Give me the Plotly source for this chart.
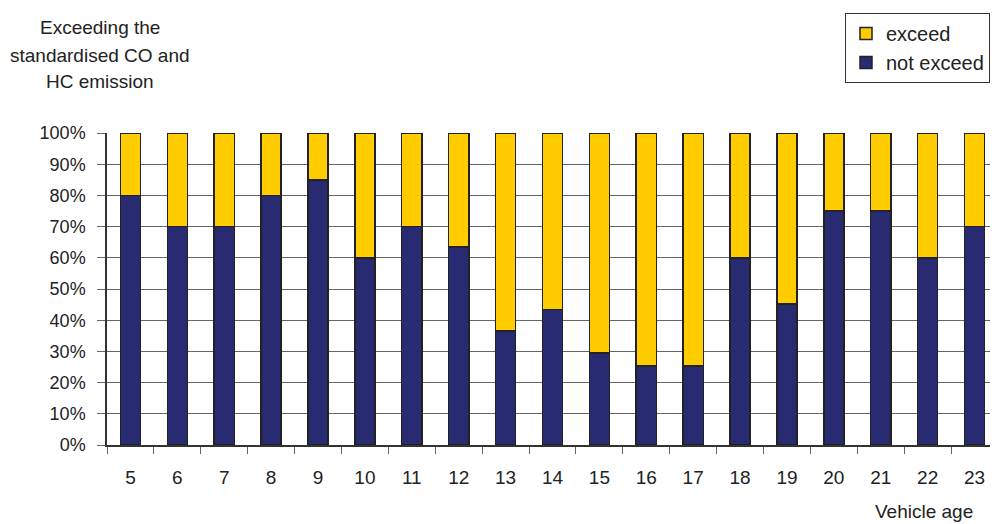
import plotly.graph_objects as go

ages = [str(a) for a in range(5, 24)]
not_exceed = [80, 70, 70, 80, 85, 60, 70, 63.5, 36.5, 43.5, 29.5, 25.3, 25.3, 60, 45.2, 75, 75, 60, 70]
exceed = [100 - v for v in not_exceed]
y_ticks = list(range(0, 101, 10))
y_ticktext = [f"{v}%" for v in y_ticks]

NAVY = "#282A72"
YELLOW = "#FFCC00"
FONT = "Liberation Sans, Arial, sans-serif"

# page body has an 8px margin: figure is drawn at (8, 8)
OFF = 8
W, H = 998 - OFF, 524 - OFF
L, T, B, R = 107 - OFF, 133 - OFF, 524 - 445, 0
PW, PH = W - L - R, H - T - B


def px_to_paper(px, py):
    # px, py are page pixel coordinates
    return (px - OFF - L) / PW, (H - B - (py - OFF)) / PH


fig = go.Figure()
fig.add_trace(go.Bar(x=ages, y=not_exceed, name="not exceed",
                     marker=dict(color=NAVY, line=dict(color="#222222", width=1.5))))
fig.add_trace(go.Bar(x=ages, y=exceed, name="exceed",
                     marker=dict(color=YELLOW, line=dict(color="#222222", width=1.5))))

lx, ly = px_to_paper(845, 13)
fig.update_layout(
    width=W, height=H,
    margin=dict(l=L, r=R, t=T, b=B),
    barmode="stack", bargap=0.57,
    plot_bgcolor="white", paper_bgcolor="white",
    font=dict(family=FONT, color="#222222"),
    showlegend=True,
    legend=dict(
        x=lx, y=ly, xanchor="left", yanchor="top",
        bordercolor="#333333", borderwidth=1, bgcolor="white",
        font=dict(size=20, family=FONT), traceorder="reversed",
        itemwidth=30,
    ),
    xaxis=dict(
        type="category", showgrid=False, showline=True, linecolor="#333333", linewidth=1.5,
        ticks="outside", tickson="boundaries", ticklen=7, tickcolor="#666666",
        tickfont=dict(size=19), ticklabelstandoff=14,
    ),
    yaxis=dict(
        range=[0, 100], tickmode="array", tickvals=y_ticks, ticktext=y_ticktext,
        showgrid=True, gridcolor="#666666", gridwidth=1,
        showline=True, linecolor="#333333", linewidth=1.5,
        ticks="outside", ticklen=8, tickcolor="#666666",
        tickfont=dict(size=18), ticklabelstandoff=8, zeroline=False,
    ),
)

texts = [("Exceeding the", 100, 27), ("standardised CO and", 100, 55),
         ("HC emission", 100, 82), ("Vehicle age", 924, 512)]
ann = []
for t, px, py in texts:
    x, y = px_to_paper(px, py)
    ann.append(dict(text=t, xref="paper", yref="paper", x=x, y=y,
                    xanchor="center", yanchor="middle", showarrow=False,
                    font=dict(size=19, family=FONT, color="#222222")))
fig.update_layout(annotations=ann)

fig.write_html("out.html")
